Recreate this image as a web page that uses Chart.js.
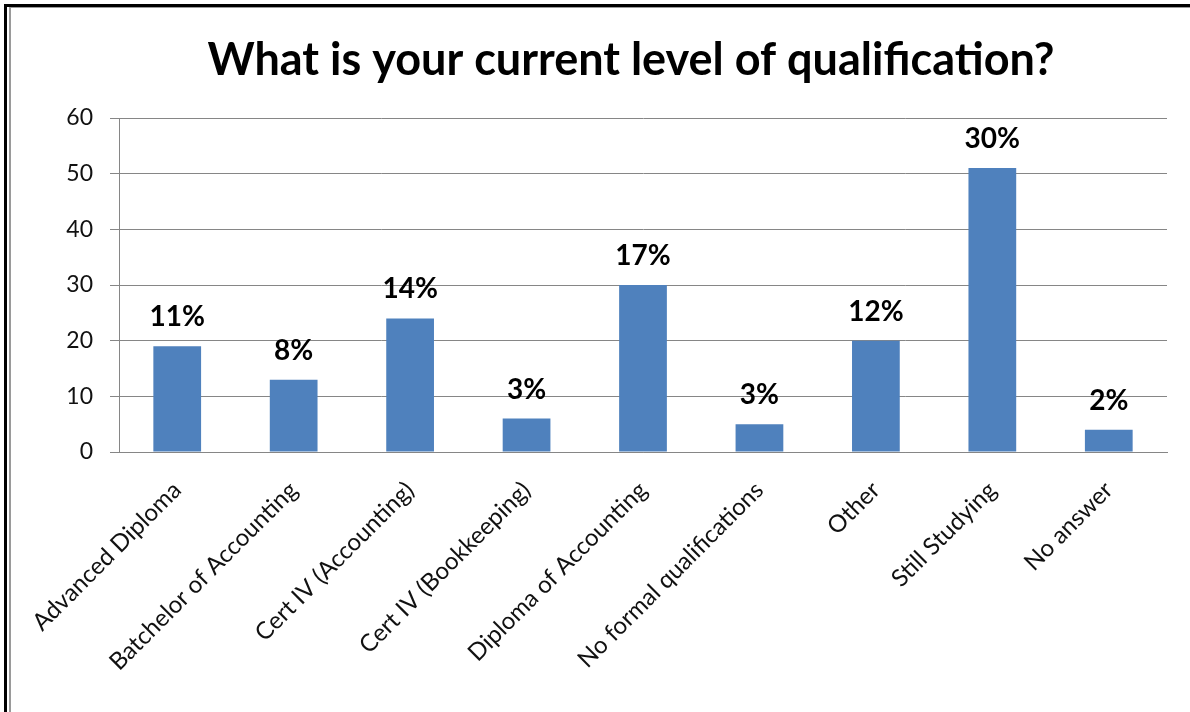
<!DOCTYPE html>
<html>
<head>
<meta charset="utf-8">
<script src="https://cdn.jsdelivr.net/npm/chart.js@4/dist/chart.umd.min.js"></script>
<style>
  html, body { margin: 0; padding: 0; background: #fff; }
  #wrap { position: relative; width: 1190px; height: 712px; }
  #frame {
    position: absolute; left: 4px; top: 4px; right: 0; bottom: 0;
    border-left: 3px solid #000; border-top: 3px solid #000;
    pointer-events: none;
  }
  #frame::after {
    content: ''; position: absolute; left: 2px; top: 0; right: 0; bottom: 0;
    border-left: 2px solid #9a9a9a; border-top: 1px solid #9a9a9a;
  }
</style>
</head>
<body>
<div id="wrap">
  <canvas id="myChart" width="1190" height="712"></canvas>
  <div id="frame"></div>
</div>
<script>
const titleText = 'What is your current level of qualification?';
const categories = [
    'Advanced Diploma',
    'Batchelor of Accounting',
    'Cert IV (Accounting)',
    'Cert IV (Bookkeeping)',
    'Diploma of Accounting',
    'No formal qualifications',
    'Other',
    'Still Studying',
    'No answer'
];
const counts = [19, 13, 24, 6, 30, 5, 20, 51, 4];
const yTicks = [0, 10, 20, 30, 40, 50, 60];

const total = counts.reduce((a, b) => a + b, 0);
const percentLabels = counts.map(v => Math.round(v / total * 100) + '%');

const FONT = 'Lato, "Open Sans", sans-serif';

// percentage text above each bar
const barLabels = {
    id: 'barLabels',
    afterDatasetsDraw(chart) {
        const { ctx } = chart;
        const meta = chart.getDatasetMeta(0);
        ctx.save();
        ctx.font = 'bold 28px ' + FONT;
        ctx.fillStyle = '#000';
        ctx.textAlign = 'center';
        ctx.textBaseline = 'alphabetic';
        meta.data.forEach((bar, i) => {
            ctx.fillText(percentLabels[i], bar.x, bar.y - 20);
        });
        ctx.restore();
    }
};

// heading sits a little right of the canvas centre, over the whole frame
const heading = {
    id: 'heading',
    afterDraw(chart) {
        const { ctx } = chart;
        ctx.save();
        ctx.font = 'bold 45px ' + FONT;
        ctx.fillStyle = '#000';
        ctx.textAlign = 'center';
        ctx.textBaseline = 'alphabetic';
        ctx.fillText(titleText, 631, 75);
        ctx.restore();
    }
};

const ctx = document.getElementById('myChart').getContext('2d');
new Chart(ctx, {
    type: 'bar',
    data: {
        labels: categories,
        datasets: [{
            data: counts,
            backgroundColor: '#4f81bd',
            borderWidth: 0,
            categoryPercentage: 1,
            barPercentage: 0.41
        }]
    },
    plugins: [barLabels, heading],
    options: {
        responsive: false,
        animation: false,
        layout: { padding: { left: 0, right: 23, top: 118, bottom: 0 } },
        plugins: {
            legend: { display: false },
            tooltip: { enabled: false },
            title: { display: false }
        },
        scales: {
            x: {
                grid: { display: false },
                border: { color: '#868686', width: 1 },
                ticks: {
                    color: '#111',
                    font: { family: FONT, size: 24 },
                    minRotation: 45,
                    maxRotation: 45,
                    padding: 16
                },
                afterFit(scale) { scale.height = 260; }
            },
            y: {
                min: 0,
                max: 60,
                afterBuildTicks(scale) { scale.ticks = yTicks.map(v => ({ value: v })); },
                grid: { color: '#868686', tickLength: 9, lineWidth: 1 },
                border: { color: '#868686', width: 1 },
                ticks: {
                    color: '#111',
                    font: { family: FONT, size: 23 },
                    padding: 17
                },
                afterFit(scale) { scale.width = 119; }
            }
        }
    }
});
</script>
</body>
</html>
